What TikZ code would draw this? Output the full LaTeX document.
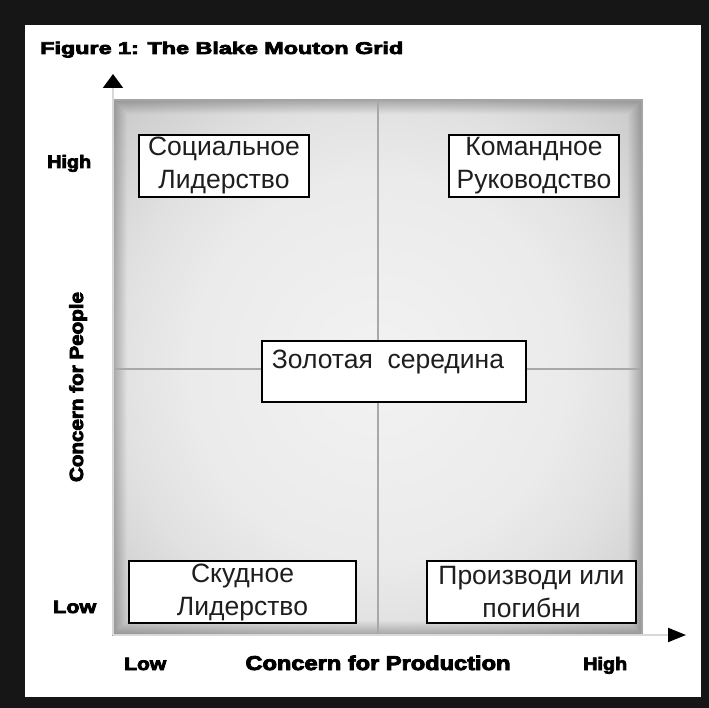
\documentclass[tikz,border=0pt]{standalone}
\usepackage{fontspec}
\setmainfont{Liberation Sans}
\newfontfamily\heavyfont[FakeBold=4,BoldFeatures={FakeBold=4}]{Liberation Sans}
\usetikzlibrary{arrows.meta}
\definecolor{framecol}{HTML}{161616}
\definecolor{midcol}{HTML}{A8A8A8}
\definecolor{axiscol}{HTML}{D8D8D8}
\definecolor{textcol}{HTML}{1E1E1E}
\definecolor{edgecol}{HTML}{A4A4A4}
\newsavebox\fitbox
\newcommand\fitw[2]{\sbox\fitbox{#2}\pgfmathsetmacro\fitx{#1/\the\wd\fitbox}\scalebox{\fitx}[1]{\usebox\fitbox}}
\pgfdeclareradialshading{plotshade}{\pgfpoint{0bp}{0bp}}{%
  color(0bp)=(white!95!black);
  color(18bp)=(white!92!black);
  color(25bp)=(white!88!black);
  color(36bp)=(white!78!black);
  color(50bp)=(white!78!black)}
\tikzset{
  lbl/.style={inner sep=0pt, text=black, font=\heavyfont\bfseries\fontsize{18}{18}\selectfont},
  box/.style={draw=black, line width=1.3pt, fill=white, inner sep=0pt, align=center,
              text=textcol, font=\fontsize{26.5}{33}\selectfont},
  boxtext/.style={inner sep=0pt, text=textcol, font=\fontsize{26.5}{33}\selectfont},
  midline/.style={draw=midcol, line width=1.5pt},
  axisline/.style={draw=axiscol, line width=2pt}
}
\begin{document}
\begin{tikzpicture}[x=1pt,y=-1pt]
\useasboundingbox (0,0) rectangle (709,708);
% frame
\fill[framecol] (0,0) rectangle (709,708);
\fill[white] (25,25) rectangle (701,697);
% plot area
\shade[shading=plotshade] (113,100) rectangle (642,635);
\foreach \k in {0,...,13}{
  \pgfmathsetmacro{\op}{0.018*(14-\k)}
  \draw[black, opacity=\op, line width=1pt]
    ({113+\k+0.5},{100+\k+0.5}) rectangle ({642-\k-0.5},{635-\k-0.5});
}
\draw[edgecol, line width=1.2pt] (113,100) rectangle (642,635);
\coordinate (vtop) at (378,100);
\coordinate (vbot) at (378,635);
\coordinate (hleft) at (113,369);
\coordinate (hright) at (642,369);
\draw[midline] (vtop) -- (vbot);
\draw[midline] (hleft) -- (hright);
% axes
\coordinate (origin) at (113,635);
\coordinate (ytip) at (113,74);
\coordinate (xtip) at (686,635);
\draw[axisline, -{Triangle[length=14pt,width=20pt,color=black]}] (origin) -- (ytip);
\draw[axisline, -{Triangle[length=18pt,width=14pt,color=black]}] (origin) -- (xtip);
% title and axis labels
\node[lbl, anchor=base west] (title) at (40,54)
  {\fitw{363}{\fontsize{17}{17}\selectfont Figure 1: The Blake Mouton Grid}};
\node[lbl, anchor=base west] (yhigh) at (47,168) {\fitw{44}{High}};
\node[lbl, anchor=base west] (ylow) at (53,613) {\fitw{43}{Low}};
\node[lbl, anchor=base west] (xlow) at (124,670) {\fitw{42}{Low}};
\node[lbl, anchor=base west] (xhigh) at (583,670) {\fitw{44}{High}};
\node[lbl, anchor=base] (xlabel) at (378,670)
  {\fitw{265}{\fontsize{20}{20}\selectfont Concern for Production}};
\node[lbl, anchor=base, rotate=90] (ylabel) at (83,387)
  {\fitw{190}{\fontsize{19}{19}\selectfont Concern for People}};
% boxes
\node[box, minimum width=170pt, minimum height=62pt] (soc) at (224,166) {Социальное\\Лидерство};
\node[box, minimum width=170pt, minimum height=62pt] (kom) at (534,166) {Командное\\Руководство};
\node[box, minimum width=264pt, minimum height=61pt] (gold) at (394,371.5) {};
\node[boxtext, anchor=base] (goldtxt) at (388,368) {Золотая\ \ середина};
\node[box, minimum width=227pt, minimum height=62pt] (skud) at (242.5,592) {Скудное\\Лидерство};
\node[box, minimum width=209pt, minimum height=62pt] (proi) at (531.5,592) {Производи или\\погибни};
\end{tikzpicture}
\end{document}
